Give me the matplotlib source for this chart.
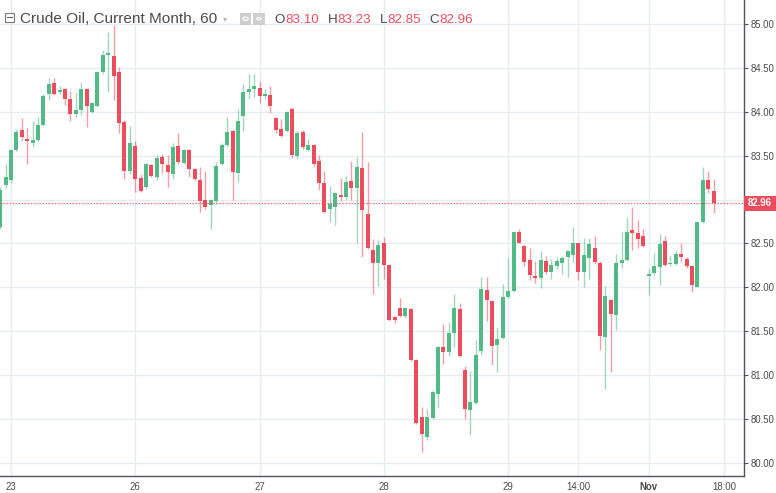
import numpy as np
import matplotlib
matplotlib.use("Agg")
import matplotlib.pyplot as plt
from matplotlib.patches import Rectangle, Circle

# ---------------- data ----------------
opens = [82.69, 83.17, 83.22, 83.57, 83.79, 83.69, 83.65, 83.68, 83.85, 84.20,
         84.33, 84.22, 84.26, 84.15, 83.97, 84.02, 84.26, 84.00, 84.07, 84.45,
         84.65, 84.63, 84.45, 83.88, 83.33, 83.61, 83.25, 83.14, 83.39, 83.26,
         83.48, 83.39, 83.29, 83.61, 83.42, 83.57, 83.35, 83.22, 83.00, 82.94,
         82.98, 83.41, 83.62, 83.78, 83.30, 83.95, 84.23, 84.26, 84.27, 84.18,
         84.19, 83.93, 83.80, 83.78, 84.03, 83.50, 83.77, 83.57, 83.62, 83.44,
         83.19, 82.89, 82.92, 83.05, 83.03, 83.21, 83.13, 83.36, 82.84, 82.43,
         82.28, 82.50, 82.26, 81.66, 81.76, 81.67, 81.75, 81.17, 80.52, 80.30,
         80.51, 80.79, 81.32, 81.26, 81.48, 81.75, 81.06, 80.60, 80.68, 81.27,
         81.97, 81.84, 81.34, 81.42, 81.89, 81.96, 82.63, 82.47, 82.31, 82.13,
         82.11, 82.30, 82.18, 82.24, 82.28, 82.35, 82.37, 82.50, 82.17, 82.33,
         82.45, 82.28, 81.44, 81.86, 81.69, 82.28, 82.31, 82.65, 82.62, 82.58,
         82.13, 82.16, 82.23, 82.53, 82.27, 82.27, 82.38, 82.32, 82.24, 82.01,
         82.74, 83.22, 83.10]
highs = [83.14, 83.41, 83.58, 83.80, 83.93, 83.81, 83.89, 83.94, 84.20, 84.39,
         84.39, 84.29, 84.27, 84.24, 84.21, 84.34, 84.27, 84.11, 84.46, 84.70,
         84.91, 84.99, 84.51, 83.91, 83.84, 83.67, 83.29, 83.42, 83.40, 83.51,
         83.52, 83.51, 83.64, 83.76, 83.58, 83.58, 83.36, 83.37, 83.32, 83.01,
         83.43, 83.64, 83.94, 83.79, 84.03, 84.32, 84.43, 84.43, 84.35, 84.26,
         84.29, 83.94, 83.92, 84.01, 84.06, 83.78, 83.79, 83.69, 83.63, 83.51,
         83.32, 83.15, 83.09, 83.25, 83.27, 83.44, 83.48, 83.77, 83.43, 82.55,
         82.54, 82.57, 82.27, 81.67, 81.88, 81.78, 81.76, 81.18, 80.64, 80.61,
         80.83, 81.33, 81.58, 81.61, 81.92, 81.82, 81.10, 81.05, 81.40, 82.12,
         82.12, 81.85, 81.55, 82.04, 82.34, 82.64, 82.67, 82.48, 82.45, 82.30,
         82.41, 82.36, 82.32, 82.35, 82.36, 82.42, 82.69, 82.51, 82.56, 82.56,
         82.59, 82.30, 82.02, 81.87, 82.38, 82.63, 82.80, 82.91, 82.77, 82.67,
         82.21, 82.39, 82.61, 82.58, 82.37, 82.43, 82.50, 82.35, 82.25, 82.75,
         83.37, 83.32, 83.23]
lows = [82.66, 83.13, 83.19, 83.55, 83.68, 83.41, 83.60, 83.67, 83.84, 84.13,
        84.19, 84.20, 84.08, 83.90, 83.94, 83.96, 83.83, 83.99, 84.05, 84.43,
        84.23, 84.13, 83.76, 83.23, 83.29, 83.09, 83.09, 83.12, 83.26, 83.22,
        83.30, 83.14, 83.23, 83.41, 83.41, 83.26, 83.22, 82.86, 82.89, 82.67,
        82.95, 83.39, 83.60, 83.00, 83.20, 83.78, 84.15, 84.17, 84.10, 84.14,
        83.99, 83.76, 83.71, 83.77, 83.47, 83.46, 83.58, 83.55, 83.38, 83.11,
        82.85, 82.75, 82.71, 82.98, 83.00, 83.00, 82.50, 82.35, 82.44, 81.93,
        82.02, 82.10, 81.62, 81.60, 81.66, 81.65, 81.16, 80.44, 80.13, 80.26,
        80.50, 80.63, 81.13, 81.22, 81.32, 81.21, 80.50, 80.32, 80.67, 81.23,
        81.62, 81.12, 81.04, 81.41, 81.88, 81.95, 82.50, 82.24, 82.08, 82.05,
        81.99, 82.15, 82.10, 82.21, 82.15, 82.12, 82.29, 82.08, 82.01, 82.10,
        82.27, 81.29, 80.84, 81.04, 81.52, 82.22, 82.30, 82.43, 82.45, 82.46,
        81.91, 82.14, 82.03, 82.24, 82.24, 82.26, 82.29, 82.22, 81.95, 82.01,
        82.73, 83.07, 82.85]
closes = [83.11, 83.26, 83.56, 83.77, 83.71, 83.67, 83.68, 83.85, 84.18, 84.32,
          84.20, 84.25, 84.15, 83.97, 84.02, 84.26, 84.07, 84.10, 84.45, 84.65,
          84.67, 84.41, 83.87, 83.33, 83.64, 83.24, 83.10, 83.41, 83.27, 83.47,
          83.41, 83.31, 83.60, 83.43, 83.57, 83.35, 83.23, 82.98, 82.91, 83.00,
          83.38, 83.62, 83.77, 83.31, 83.90, 84.23, 84.26, 84.29, 84.18, 84.20,
          84.07, 83.79, 83.72, 84.00, 83.51, 83.76, 83.60, 83.62, 83.41, 83.19,
          82.86, 82.95, 83.07, 83.03, 83.20, 83.13, 83.37, 82.88, 82.45, 82.28,
          82.48, 82.26, 81.63, 81.63, 81.67, 81.76, 81.17, 80.45, 80.33, 80.52,
          80.81, 81.32, 81.26, 81.48, 81.76, 81.22, 80.62, 80.69, 81.23, 81.98,
          81.86, 81.33, 81.41, 81.89, 81.96, 82.63, 82.51, 82.29, 82.14, 82.11,
          82.31, 82.18, 82.26, 82.30, 82.34, 82.41, 82.50, 82.18, 82.37, 82.49,
          82.29, 81.45, 81.90, 81.70, 82.28, 82.31, 82.63, 82.62, 82.55, 82.47,
          82.15, 82.24, 82.49, 82.26, 82.28, 82.38, 82.35, 82.24, 82.03, 82.74,
          83.22, 83.12, 82.96]

x_tick_bars = [2, 25, 48, 71, 94, 107, 120, 134]
x_tick_labels = ["23", "26", "27", "28", "29", "14:00", "Nov", "18:00"]
y_ticks = [80.0, 80.5, 81.0, 81.5, 82.0, 82.5, 83.0, 83.5, 84.0, 84.5, 85.0]
last_price = 82.96
title = "Crude Oil, Current Month, 60"
header_keys = ["O", "H", "L", "C"]
header_vals = ["83.10", "83.23", "82.85", "82.96"]

# ---------------- styling ----------------
UP = "#53b987"
DOWN = "#eb4d5c"
W, H = 776, 493
TXT = "#4a4a4a"
FONT = ["Liberation Sans", "DejaVu Sans"]

fig = plt.figure(figsize=(W / 100, H / 100), dpi=100)
fig.patch.set_facecolor("white")

def fx(px):
    return px / W

def fy(py):
    return 1 - py / H

ax = fig.add_axes([0, 17 / H, 744 / W, 476 / H])
ax.set_facecolor("white")

o = np.array(opens)
c = np.array(closes)
hi = np.array(highs)
lo = np.array(lows)
x = np.arange(len(o))
up = c >= o
body_col = np.where(up, UP, DOWN)

ax.vlines(x, lo, hi, colors=body_col, lw=1.0, alpha=0.55, zorder=2)
bottom = np.minimum(o, c)
height = np.maximum(np.abs(c - o), 0.012)
ax.bar(x, height, bottom=bottom, width=0.74, color=body_col, lw=0, zorder=3)

ax.axhline(last_price, color=DOWN, lw=0.9, linestyle=(0, (1, 1.4)), zorder=4)

ax.set_xlim(-0.02, 137.63)
ax.set_ylim(79.852, 85.273)

ax.set_yticks(y_ticks)
# the last-price label hides the tick label closest to it
ax.set_yticklabels(["" if abs(v - last_price) < 0.1 else f"{v:.2f}" for v in y_ticks])
ax.set_xticks(x_tick_bars)
ax.set_xticklabels(x_tick_labels)
ax.yaxis.tick_right()
ax.grid(True, color="#e6edf2", lw=1.0, zorder=0)
ax.set_axisbelow(True)

for s in ["top", "left"]:
    ax.spines[s].set_visible(False)
for s in ["right", "bottom"]:
    ax.spines[s].set_color("#50535e")
    ax.spines[s].set_linewidth(1.0)

ax.tick_params(axis="y", which="both", direction="out", length=3, width=0.8,
               color="#50535e", labelsize=6.9, labelcolor=TXT, pad=2)
ax.tick_params(axis="x", which="both", direction="out", length=0,
               labelsize=6.9, labelcolor=TXT, pad=4)
for lab in ax.get_yticklabels() + ax.get_xticklabels():
    lab.set_family(FONT)
for lab in ax.get_xticklabels():
    if lab.get_text() == "Nov":
        lab.set_fontweight("bold")

# price label on axis
fig.patches.append(Rectangle((fx(743.5), fy(210.5)), fx(776) - fx(743.5),
                             fy(195.5) - fy(210.5), transform=fig.transFigure,
                             facecolor=DOWN, edgecolor="none", zorder=5))
fig.text(fx(760), fy(203.3), f"{last_price:.2f}", color="white", fontsize=6.9,
         family=FONT, fontweight="bold", ha="center", va="center", zorder=6)

# ---------------- header ----------------
fig.patches.append(Rectangle((fx(4.5), fy(21.5)), fx(9), 9 / H, transform=fig.transFigure,
                             facecolor="white", edgecolor="#777777", lw=0.8, zorder=6))
fig.lines.append(plt.Line2D([fx(6.5), fx(11.5)], [fy(17), fy(17)], transform=fig.transFigure,
                            color="#666666", lw=0.8, zorder=7))
fig.text(fx(20.5), fy(23), title, color=TXT, fontsize=11.1, family=FONT,
         ha="left", va="baseline", zorder=6)
fig.text(fx(225.5), fy(18.5), "\u25BE", color="#b5b5b5", fontsize=6,
         family=["DejaVu Sans"], ha="center", va="center", zorder=6)
for x0, x1 in [(240, 251), (253, 265)]:
    fig.patches.append(Rectangle((fx(x0), fy(24.5)), fx(x1 - x0), 11.5 / H,
                                 transform=fig.transFigure, facecolor="#cfcfcf",
                                 edgecolor="none", zorder=6))
fig.patches.append(Circle((fx(245.5), fy(18.7)), 2.6 / W, transform=fig.transFigure,
                          facecolor="none", edgecolor="white", lw=0.9, zorder=7))
fig.patches.append(Circle((fx(259), fy(18.7)), 2.8 / W, transform=fig.transFigure,
                          facecolor="white", edgecolor="none", zorder=7))
fig.patches.append(Circle((fx(259), fy(18.7)), 1.2 / W, transform=fig.transFigure,
                          facecolor="#cfcfcf", edgecolor="none", zorder=8))

key_x = [274.5, 327.5, 379.5, 429.5]
val_x = [285, 337, 387, 439.5]
for k, v, kx, vx in zip(header_keys, header_vals, key_x, val_x):
    fig.text(fx(kx), fy(23.3), k, color=TXT, fontsize=9.6, family=FONT,
             ha="left", va="baseline", zorder=6)
    fig.text(fx(vx), fy(23.3), v, color="#ef4f5e", fontsize=9.6, family=FONT,
             ha="left", va="baseline", zorder=6)

fig.savefig("out.png", dpi=100, facecolor="white")
